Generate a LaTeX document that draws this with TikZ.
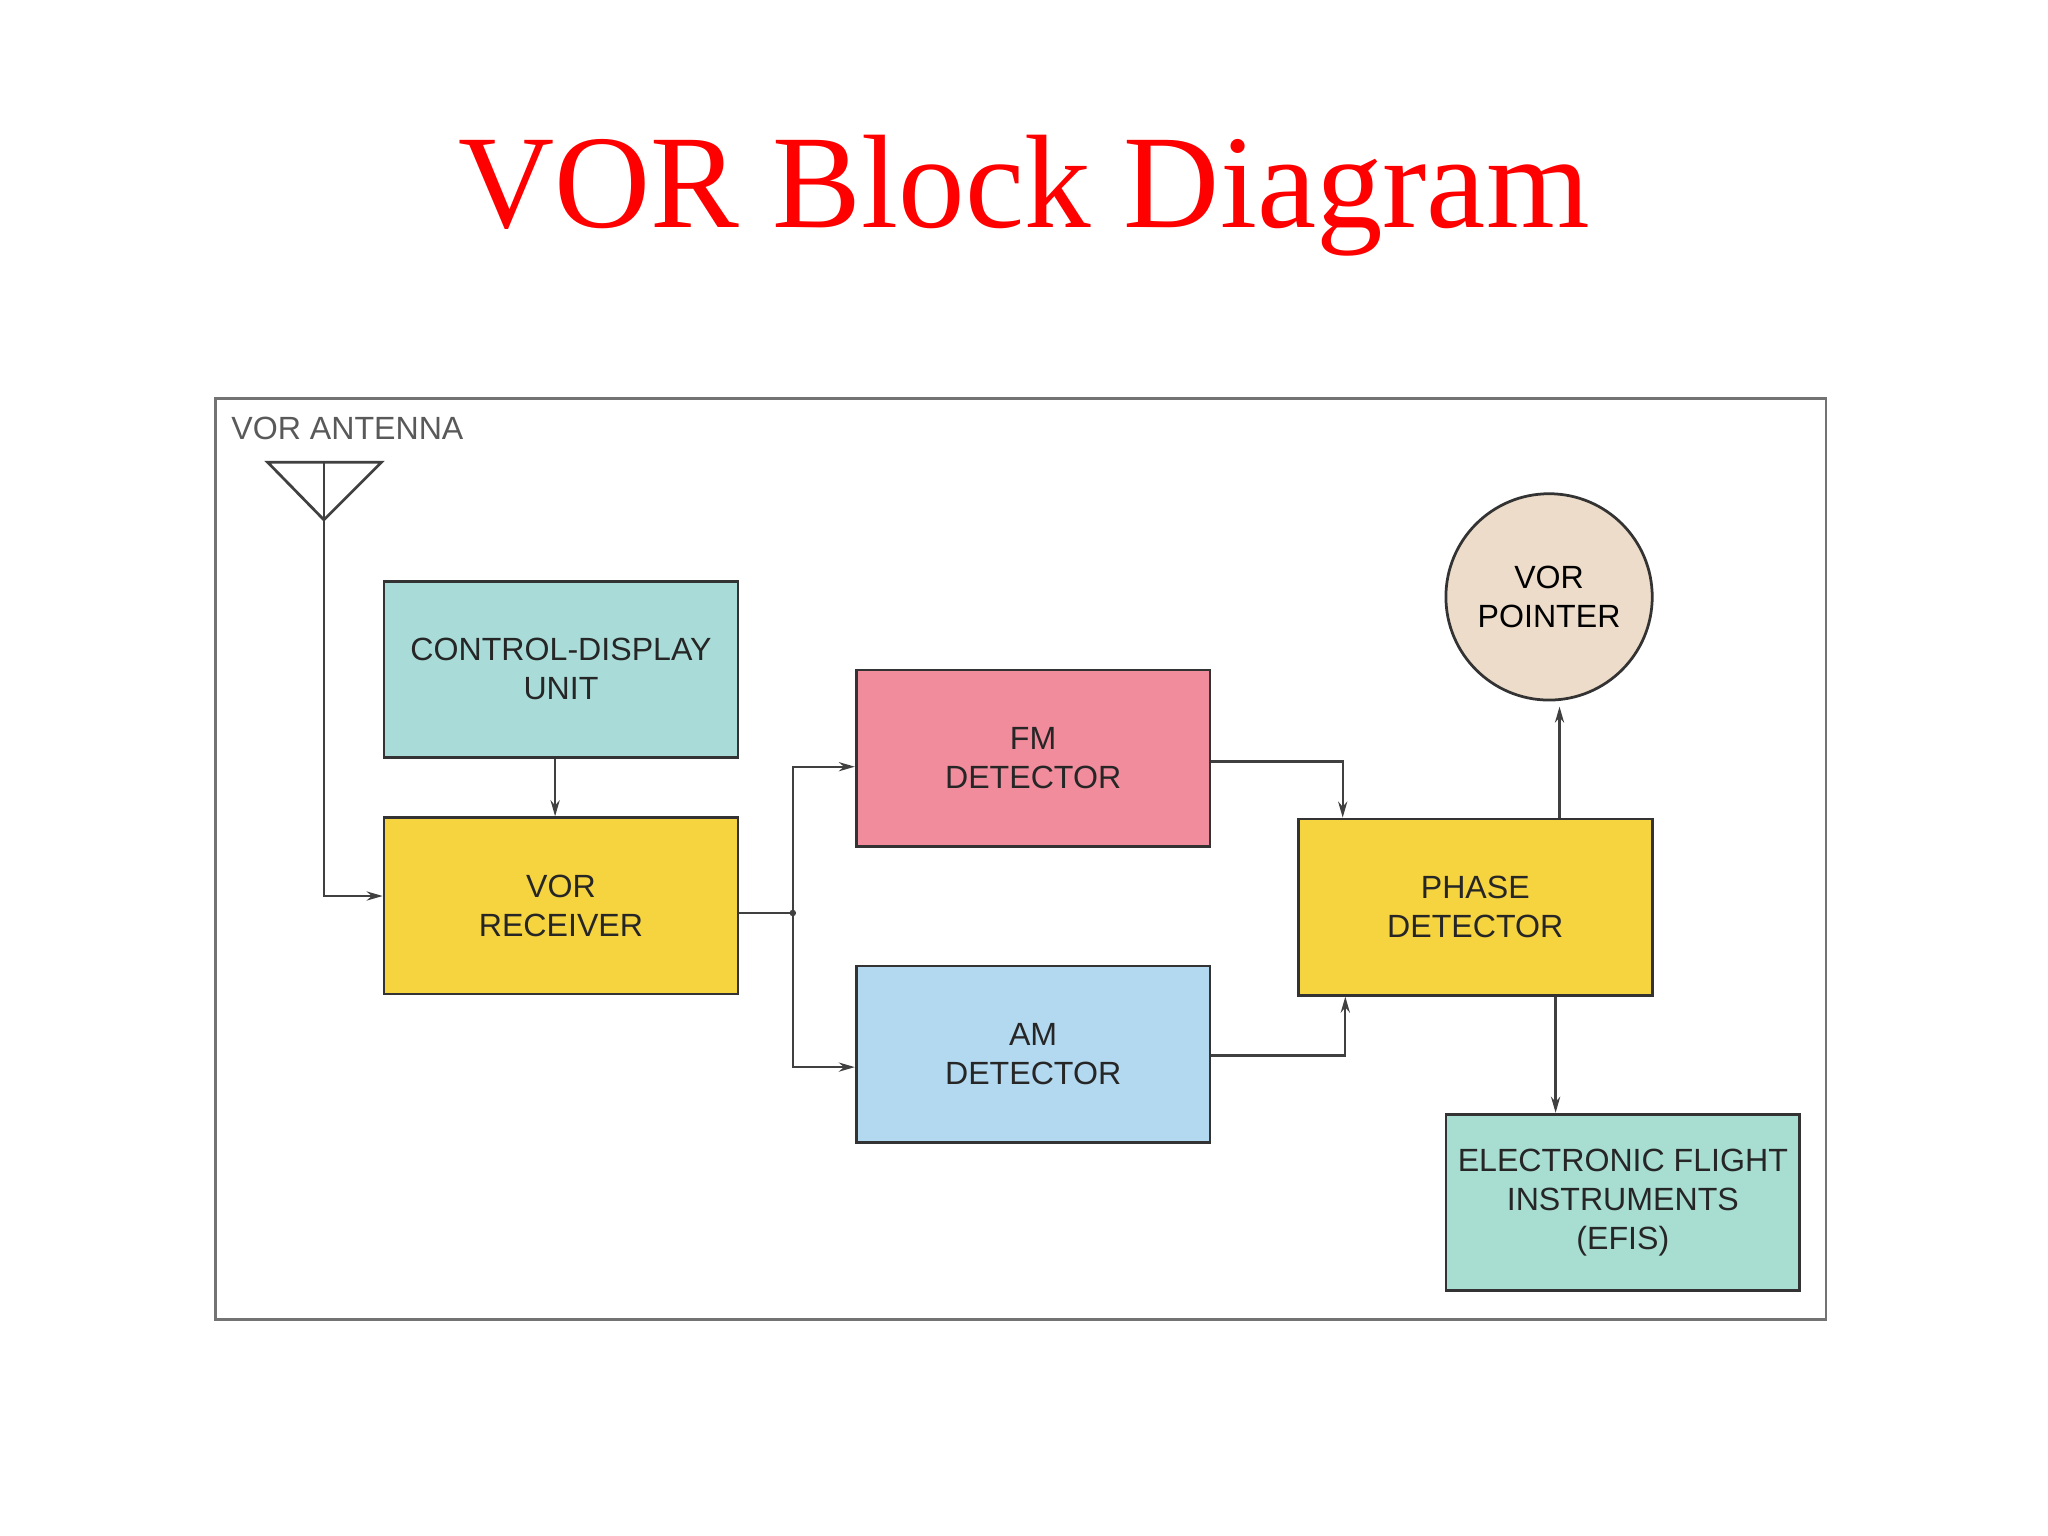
\documentclass[tikz,border=0pt]{standalone}
\usepackage{fontspec}
\setmainfont{Liberation Sans}
\newfontfamily\titlefont{Liberation Serif}
\usetikzlibrary{arrows.meta}
\definecolor{cdu}{HTML}{A9DCD8}
\definecolor{yel}{HTML}{F5D43F}
\definecolor{fm}{HTML}{F08C9C}
\definecolor{am}{HTML}{B3D9F0}
\definecolor{ptr}{HTML}{EDDCC9}
\definecolor{efis}{HTML}{A8DDD2}
\begin{document}
\begin{tikzpicture}[x=0.02cm,y=-0.02cm,
  blk/.style={draw=black!80,line width=1.2pt,minimum width=5.42cm,minimum height=2.7cm,align=center,font=\fontsize{14}{17}\selectfont,text=black!85},
  con/.style={draw=black!75,line width=1pt},
  arr/.style={con,-{Stealth[length=7pt,width=4pt]}}]
\useasboundingbox (0,0) rectangle (1568,1176);
\node[font=\titlefont\fontsize{58}{60}\selectfont,text=red] (title) at (784,150) {VOR Block Diagram};
\draw[black!55,line width=1.2pt] (165,305) rectangle (1398,1010);
\node[font=\fontsize{14}{17}\selectfont,text=black!65] (antlbl) at (266,328) {VOR ANTENNA};
\draw[black!75,line width=1.2pt] (205,354) -- (292,354) -- (248,398) -- cycle;
\coordinate (ant) at (248,354);
\node[blk,fill=cdu] (cdu) at (429.5,512.5) {CONTROL-DISPLAY\\UNIT};
\node[blk,fill=yel] (rx) at (429.5,693.5) {VOR\\RECEIVER};
\node[blk,fill=fm] (fmd) at (791,580.5) {FM\\DETECTOR};
\node[blk,fill=am] (amd) at (791,807) {AM\\DETECTOR};
\node[blk,fill=yel] (ph) at (1129.5,694.5) {PHASE\\DETECTOR};
\node[blk,fill=efis] (ef) at (1242.5,920.5) {ELECTRONIC FLIGHT\\INSTRUMENTS\\(EFIS)};
\node[circle,draw=black!80,line width=1.2pt,fill=ptr,minimum size=3.16cm,align=center,font=\fontsize{14}{17}\selectfont] (vp) at (1186,457) {VOR\\POINTER};
\coordinate (j) at (607,699);
\fill[black!75] (j) circle (2.5);
\draw[arr] (ant) -- (248,686) -- (rx.west |- 0,686);
\draw[arr] (cdu.south -| 425,0) -- (rx.north -| 425,0);
\draw[con] (rx.east |- j) -- (j);
\draw[arr] (j) -- (607,587) -- (fmd.west |- 0,587);
\draw[arr] (j) -- (607,817) -- (amd.west |- 0,817);
\draw[arr] (fmd.east |- 0,583) -- (1028,583) -- (ph.north -| 1028,0);
\draw[arr] (amd.east |- 0,808) -- (1030,808) -- (ph.south -| 1030,0);
\draw[arr] (ph.north -| 1194,0) -- (1194,541);
\draw[arr] (ph.south -| 1191,0) -- (ef.north -| 1191,0);
\end{tikzpicture}
\end{document}
